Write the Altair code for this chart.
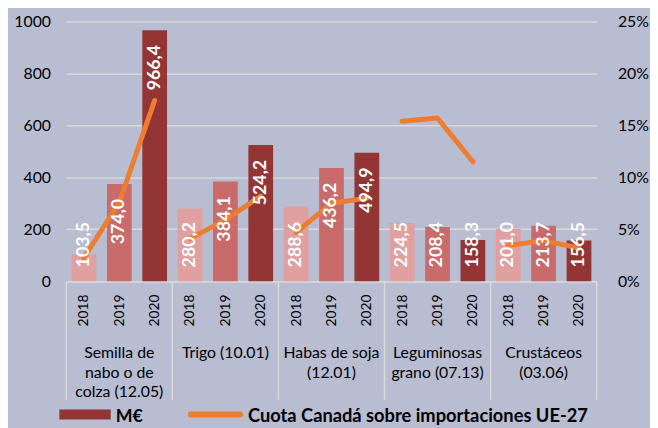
import altair as alt
import pandas as pd

products = [
    "Semilla de\nnabo o de\ncolza (12.05)",
    "Trigo (10.01)",
    "Habas de soja\n(12.01)",
    "Leguminosas\ngrano (07.13)",
    "Crustáceos\n(03.06)",
]
years = ["2018", "2019", "2020"]
meur_2018 = [103.5, 280.2, 288.6, 224.5, 201.0]
meur_2019 = [374.0, 384.1, 436.2, 208.4, 213.7]
meur_2020 = [966.4, 524.2, 494.9, 158.3, 156.5]
share_2018 = [0.0225, 0.041, 0.047, 0.154, 0.0345]
share_2019 = [0.076, 0.059, 0.075, 0.157, 0.039]
share_2020 = [0.174, 0.082, 0.080, 0.115, 0.032]
y_ticks = [0, 200, 400, 600, 800, 1000]
pct_ticks = [0, 0.05, 0.10, 0.15, 0.20, 0.25]
year_colors = ["#E0A0A0", "#C96B6B", "#943535"]
legend_bar = "M€"
legend_line = "Cuota Canadá sobre importaciones UE-27"

meur = [meur_2018, meur_2019, meur_2020]
share = [share_2018, share_2019, share_2020]
rows = []
for p, prod in enumerate(products):
    for k, yr in enumerate(years):
        rows.append({"product": prod, "p": p, "year": yr, "k": k,
                     "meur": meur[k][p], "share": share[k][p]})
df = pd.DataFrame(rows)
n_slots = len(products) * len(years)

FONT = "Lato"
GRID = "#D9D9D9"

x_scale = alt.Scale(domain=[0, n_slots], nice=False, zero=False)
x_axis = alt.Axis(
    values=[i + 0.5 for i in range(n_slots)],
    labelExpr=f"{years}[floor(datum.value) % {len(years)}]",
    labelAngle=270, labelAlign="right", labelBaseline="middle",
    labelFlush=False, labelOverlap=False,
    ticks=False, grid=False, domainColor=GRID, domainWidth=1.5,
    labelPadding=13, labelFont=FONT, labelFontSize=14, labelColor="#000000",
    title=None,
)
y_scale = alt.Scale(domain=[0, 1000], nice=False)
y_axis = alt.Axis(
    values=y_ticks, format="d", grid=True, gridColor=GRID, gridWidth=1.5,
    domain=False, ticks=False, labelPadding=16, labelFont=FONT,
    labelFontSize=16, labelColor="#000000", title=None,
)
r_axis = alt.Axis(
    values=pct_ticks, format=".0%", orient="right", grid=False,
    domain=False, ticks=False, labelPadding=21, labelFont=FONT,
    labelFontSize=16, labelColor="#000000", title=None,
)

base = alt.Chart(df).transform_calculate(
    pos=f"datum.p * {len(years)} + datum.k + 0.5",
    x0="datum.pos - 0.35",
    x1="datum.pos + 0.35",
    zero="0",
    label="replace(format(datum.meur, '.1f'), '.', ',')",
)

bars = base.mark_bar().encode(
    x=alt.X("x0:Q", scale=x_scale, axis=x_axis),
    x2="x1:Q",
    y=alt.Y("meur:Q", scale=y_scale, axis=y_axis),
    y2="zero:Q",
    color=alt.Color("year:N", scale=alt.Scale(domain=years, range=year_colors), legend=None),
)

line = base.mark_line(color="#ED7D31", strokeWidth=5, strokeCap="round", strokeJoin="round").encode(
    x=alt.X("pos:Q", scale=x_scale, axis=x_axis),
    y=alt.Y("share:Q", scale=alt.Scale(domain=[0, 0.25], nice=False), axis=r_axis),
    detail="product:N",
    order="pos:Q",
)

lab_big = base.transform_filter("datum.meur >= 350").mark_text(
    angle=270, align="right", baseline="middle", dx=-15,
    font=FONT, fontSize=18, fontWeight="bold", color="white",
).encode(
    x=alt.X("pos:Q", scale=x_scale, axis=x_axis),
    y=alt.Y("meur:Q", scale=y_scale, axis=None),
    text="label:N",
)

lab_small = base.transform_filter("datum.meur < 350").mark_text(
    angle=270, align="left", baseline="middle", dx=14,
    font=FONT, fontSize=18, fontWeight="bold", color="white",
).encode(
    x=alt.X("pos:Q", scale=x_scale, axis=x_axis),
    y=alt.value(263),
    text="label:N",
)

seps_df = pd.DataFrame({"b": list(range(0, n_slots + 1, len(years)))})
seps = alt.Chart(seps_df).mark_rule(color=GRID, strokeWidth=1.5).encode(
    x=alt.X("b:Q", scale=x_scale, axis=x_axis),
    y=alt.value(263),
    y2=alt.value(383),
)

names_df = pd.DataFrame({"product": products, "p": list(range(len(products)))})
names = alt.Chart(names_df).transform_calculate(
    c=f"datum.p * {len(years)} + {len(years) / 2}"
).mark_text(
    lineBreak="\n", align="center", baseline="alphabetic", lineHeight=19.5,
    font=FONT, fontSize=16, color="#000000",
).encode(
    x=alt.X("c:Q", scale=x_scale, axis=x_axis),
    y=alt.value(341),
    text="product:N",
)

leg_df = pd.DataFrame({"a": [legend_bar], "b": [legend_line]})
leg_rect = alt.Chart(leg_df).mark_rect(color=year_colors[2]).encode(
    x=alt.value(-7), x2=alt.value(45), y=alt.value(393), y2=alt.value(403)
)
leg_t1 = alt.Chart(leg_df).mark_text(
    align="left", baseline="alphabetic", font=FONT, fontSize=18, fontWeight="bold", color="#000000"
).encode(x=alt.value(50), y=alt.value(406), text="a:N")
leg_line = alt.Chart(leg_df).mark_rule(color="#ED7D31", strokeWidth=6, strokeCap="round").encode(
    x=alt.value(126), x2=alt.value(176), y=alt.value(398)
)
leg_t2 = alt.Chart(leg_df).mark_text(
    align="left", baseline="alphabetic", font=FONT, fontSize=18.5, fontWeight="bold", color="#000000"
).encode(x=alt.value(184), y=alt.value(406), text="b:N")

chart = alt.layer(
    bars, line, lab_big, lab_small, seps, names, leg_rect, leg_t1, leg_line, leg_t2
).resolve_scale(y="independent").properties(
    width=537, height=263,
    autosize=alt.AutoSizeParams(type="none"),
    padding={"left": 59, "top": 11, "right": 54, "bottom": 146},
).configure(background="#B8BDD2", font=FONT).configure_view(stroke=None)

chart.save("out.html", embed_options={"renderer": "svg", "actions": False})
